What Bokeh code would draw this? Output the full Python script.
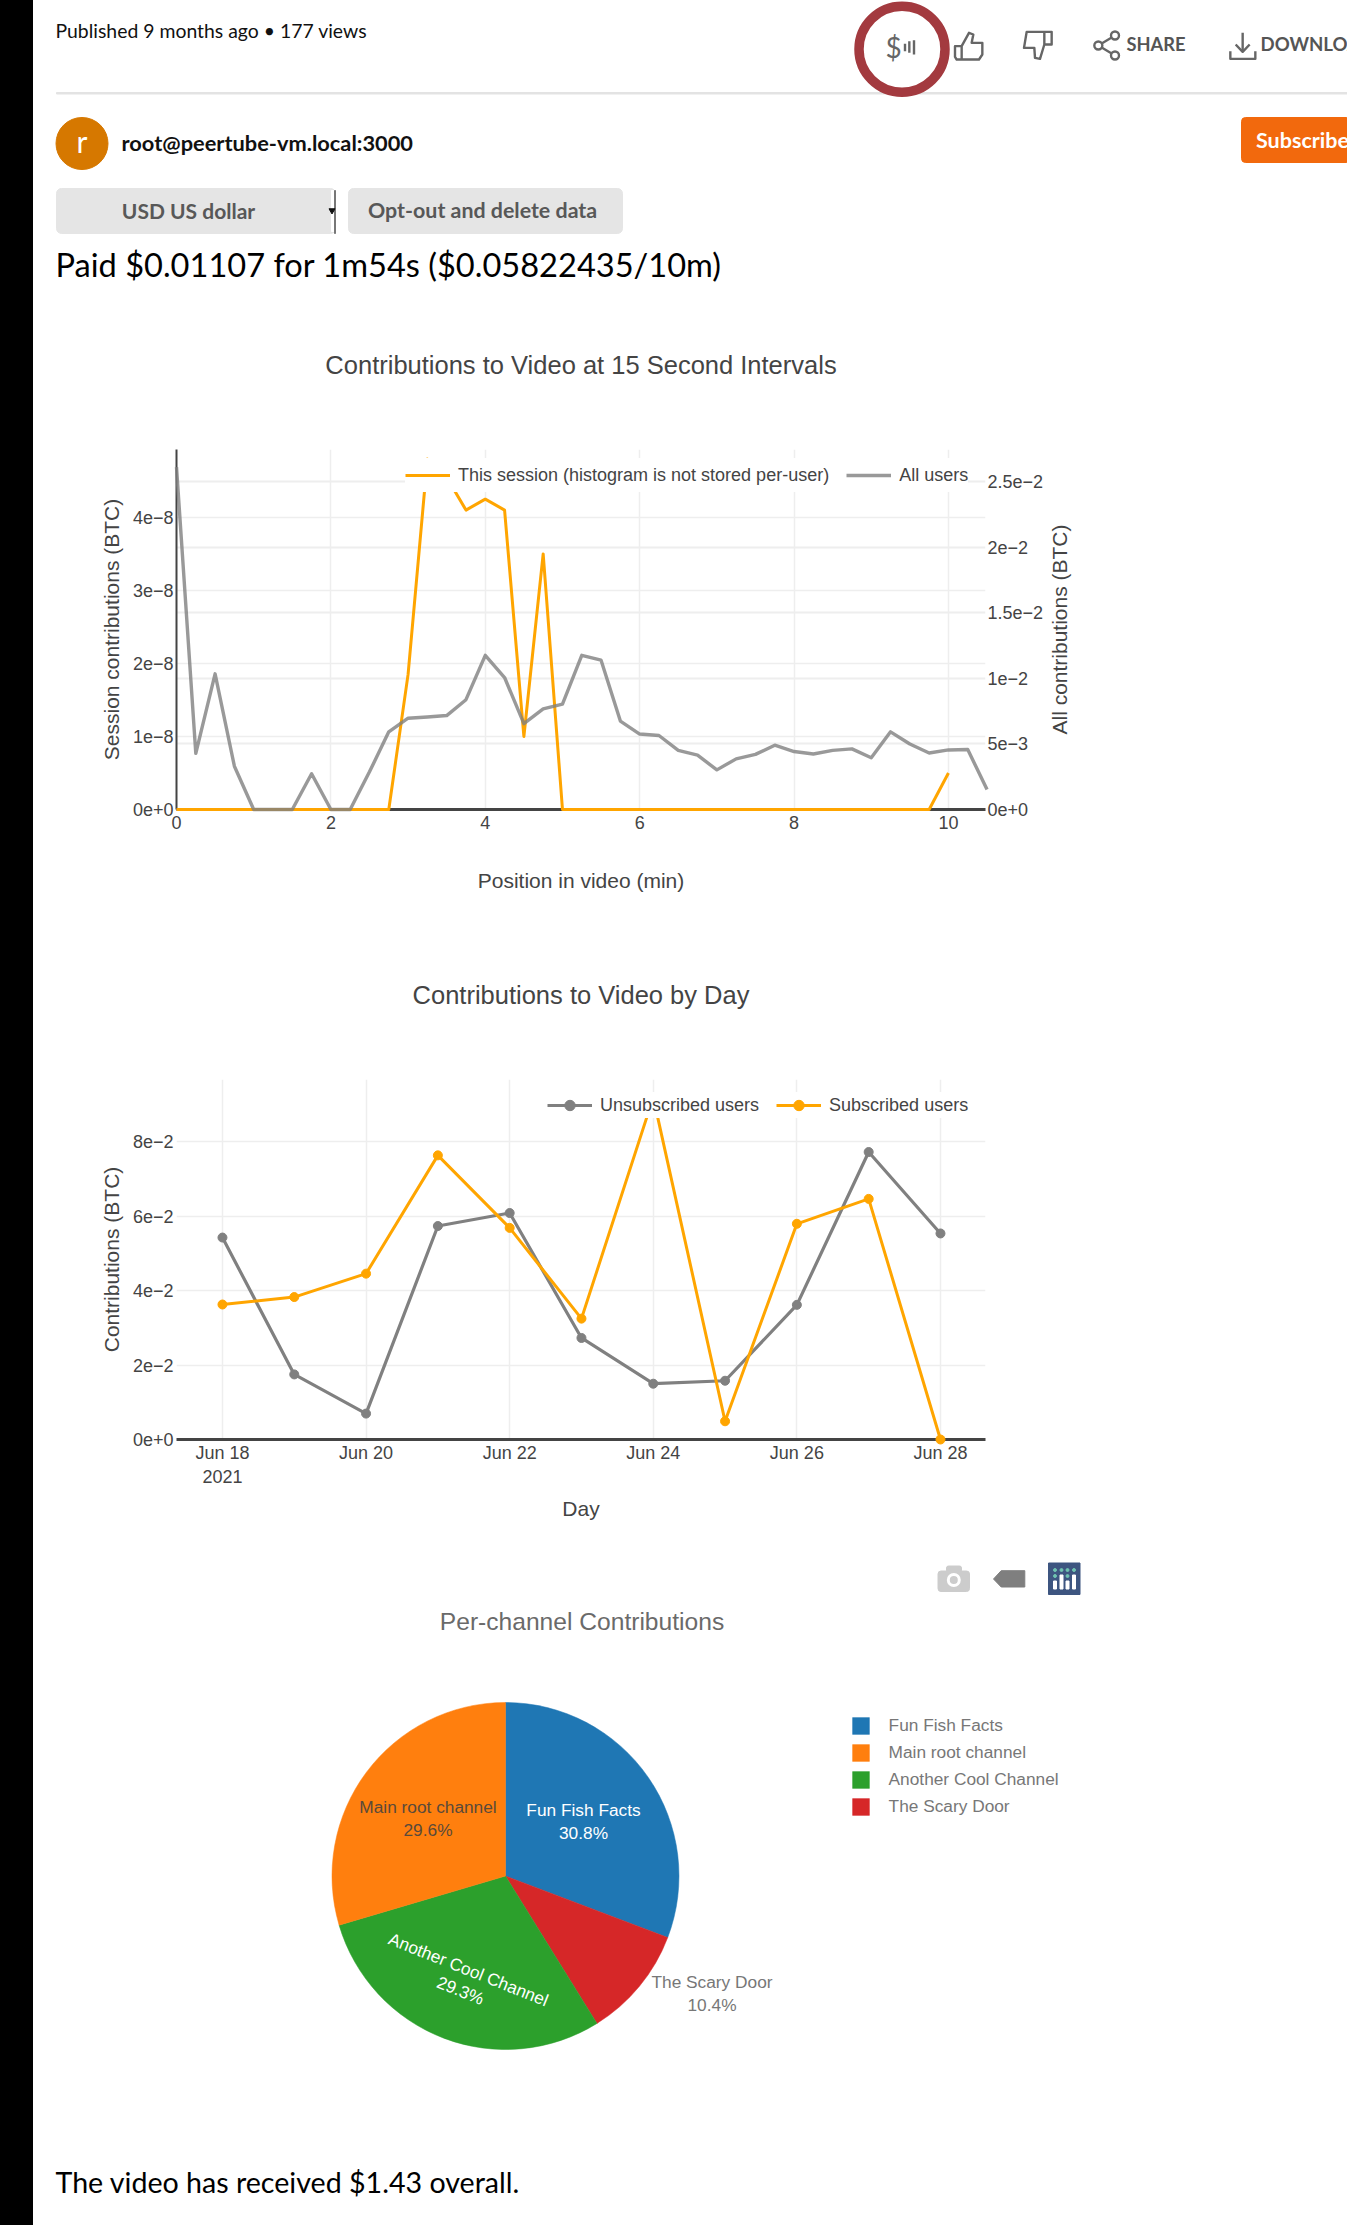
import numpy as np
import pandas as pd
from bokeh.core.properties import value
from bokeh.embed import file_html
from bokeh.layouts import column, row
from bokeh.models import (ColumnDataSource, CustomJSTickFormatter, Div, FixedTicker, Grid,
                          Legend, LegendItem, LinearAxis, Range1d)
from bokeh.plotting import figure
from bokeh.resources import INLINE

# ---- chart 1 data
minutes = [0, .25, .5, .75, 1, 1.25, 1.5, 1.75, 2, 2.25, 2.5, 2.75, 3, 3.25, 3.5, 3.75, 4, 4.25, 4.5, 4.75,
           5, 5.25, 5.5, 5.75, 6, 6.25, 6.5, 6.75, 7, 7.25, 7.5, 7.75, 8, 8.25, 8.5, 8.75, 9, 9.25, 9.5,
           9.75, 10, 10.25, 10.5]
all_users = [.0261, .00428, .01034, .0033, 0, 0, 0, .00273, 0, 0, .00287, .00592, .00696, .00705, .00716,
             .00837, .01175, .01006, .00654, .00767, .00803, .01175, .01138, .00674, .00575, .00564, .00451,
             .00414, .00302, .00386, .0042, .0049, .00442, .00423, .00451, .00462, .00395, .00592, .00499,
             .00431, .00454, .00457, .00152]
session_minutes = minutes[:41]
session = [0, 0, 0, 0, 0, 0, 0, 0, 0, 0, 0, 0, 1.85e-8, 4.8e-8, 4.55e-8, 4.1e-8, 4.25e-8, 4.1e-8, 1.0e-8, 3.5e-8,
           0, 0, 0, 0, 0, 0, 0, 0, 0, 0, 0, 0, 0, 0, 0, 0, 0, 0, 0, 0, .5e-8]
session_ticks = [0, 1e-8, 2e-8, 3e-8, 4e-8]
all_ticks = [0, 5e-3, 1e-2, 1.5e-2, 2e-2, 2.5e-2]
minute_ticks = [0, 2, 4, 6, 8, 10]

# ---- chart 2 data
days = ["2021-06-18", "2021-06-19", "2021-06-20", "2021-06-21", "2021-06-22", "2021-06-23",
        "2021-06-24", "2021-06-25", "2021-06-26", "2021-06-27", "2021-06-28"]
unsubscribed = [.0543, .0175, .00697, .0574, .0609, .0273, .0150, .0158, .0362, .0773, .0554]
subscribed = [.0363, .0383, .0446, .0764, .0569, .0325, .092, .0049, .058, .0647, 0]
day_ticks = ["2021-06-18", "2021-06-20", "2021-06-22", "2021-06-24", "2021-06-26", "2021-06-28"]
day_labels = ["Jun 18\n2021", "Jun 20", "Jun 22", "Jun 24", "Jun 26", "Jun 28"]
contribution_ticks = [0, 2e-2, 4e-2, 6e-2, 8e-2]

# ---- pie data
channels = ["Fun Fish Facts", "Main root channel", "Another Cool Channel", "The Scary Door"]
shares = [30.8, 29.6, 29.3, 10.4]
clockwise_order = ["Fun Fish Facts", "The Scary Door", "Another Cool Channel", "Main root channel"]
channel_colors = {"Fun Fish Facts": "#1f77b4", "Main root channel": "#ff7f0e",
                  "Another Cool Channel": "#2ca02c", "The Scary Door": "#d62728"}

ARIAL = "Liberation Sans"
SANS = "Lato"
INK = "#444444"
GRID = "#eeeeee"
BAR = 33
PAGE_W, PAGE_H = 1347, 2225
CHART_RIGHT = 1046
EXP = "return Number(tick.toPrecision(3)).toExponential().replace('e-', 'e\u2212');"


def to_ms(s):
    return pd.Timestamp(s).value / 1e6


def canvas(top, bottom, left=BAR, right=PAGE_W, dx=0.0, dy=0.0):
    """A figure whose data coordinates are the page's own pixels."""
    p = figure(width=right - left, height=bottom - top, x_range=Range1d(left + dx, right + dx),
               y_range=Range1d(bottom + dy, top + dy),
               output_backend="svg", toolbar_location=None, min_border=0, outline_line_color=None,
               x_axis_type=None, y_axis_type=None, frame_align=False)
    p.xgrid.visible = False
    p.ygrid.visible = False
    return p


def write(p, x, y, s, size, color="#000000", font=SANS, style="normal", align="left", angle=0):
    p.text(x=[x], y=[y], text=[s], text_font=value(font), text_font_size=f"{size}px", text_color=color,
           text_font_style=style, text_align=align, text_baseline="middle", angle=angle)


def style_axis(ax, label=None, standoff=10, line=False):
    ax.axis_label = label
    ax.axis_label_text_font = ARIAL
    ax.axis_label_text_font_size = "21px"
    ax.axis_label_text_font_style = "normal"
    ax.axis_label_text_color = INK
    ax.axis_label_standoff = standoff
    ax.major_label_text_font = ARIAL
    ax.major_label_text_font_size = "18px"
    ax.major_label_text_color = INK
    ax.major_label_standoff = 3
    ax.major_tick_line_color = None
    ax.minor_tick_line_color = None
    ax.major_tick_in = 0
    ax.major_tick_out = 0
    ax.axis_line_color = INK if line else None
    ax.axis_line_width = 3 if line else 2


def make_legend(items, loc, height):
    lg = Legend(items=items, location=loc, orientation="horizontal", glyph_width=45, glyph_height=height,
                label_standoff=8, spacing=17, padding=8, margin=0, border_line_color=None,
                background_fill_color="white", background_fill_alpha=1.0,
                label_text_font=ARIAL, label_text_font_size="18px", label_text_color=INK,
                label_height=height, level="overlay")
    return lg


# ================ header ================
head = canvas(0, 285, dx=2, dy=3)
head.quad(left=[58], right=[1350], top=[95], bottom=[96.5], color="#e3e3e3")
# payment ring
head.circle(x=[903.5], y=[51.7], radius=43, fill_color=None, line_color="#a33a3f", line_width=9.5)
write(head, 895, 49, "$", 28, "#666666", align="center")
ICON = "#666666"
def zx(v):
    return 846.5 + v / 3
def zy(v):
    return 2 + v / 3
head.multi_line(xs=[[zx(a) for a in xs] for xs in [
        [350, 372, 385, 380, 412, 412, 402, 335, 330, 330, 350, 350],
        [598, 620, 620, 598, 598, 545, 537, 568, 570, 585, 598],
        [1172, 1193, 1214], [1193, 1193], [1156, 1156, 1231, 1231],
        [810, 760, 810], [180, 180], [193, 193], [207, 207]]],
    ys=[[zy(a) for a in ys] for ys in [
        [140, 100, 105, 130, 130, 165, 180, 180, 172, 140, 140, 180],
        [97, 97, 135, 135, 97, 97, 145, 145, 175, 178, 135],
        [135, 157, 135], [100, 157], [155, 178, 178, 155],
        [108, 138, 168], [133, 155], [125, 160], [122, 165]]],
    line_color=ICON, line_width=2.4, line_join="round")
head.circle(x=[zx(810), zx(760), zx(810)], y=[zy(108), zy(138), zy(168)], radius=4, fill_color="white",
            line_color=ICON, line_width=2.4)
write(head, 1128, 46.5, "SHARE", 18.3, "#555555", style="bold")
write(head, 1262, 46.5, "DOWNLOAD", 18.6, "#555555", style="bold")
# channel line
head.circle(x=[83.5], y=[146], radius=26, color="#d67800")
write(head, 83.5, 143.5, "r", 30, "#ffffff", align="center")
write(head, 123, 144.5, "root@peertube-vm.local:3000", 21.8, "#111111", style="bold")
head.quad(left=[1243], right=[1352], top=[120], bottom=[165], color="#f2690d", border_radius=4)
write(head, 1257.5, 142.5, "Subscribe", 21.5, "#ffffff", style="bold")
write(head, 57, 33, "Published 9 months ago \u2022 177 views", 19.4, "#111111")
# controls
head.quad(left=[58, 350], right=[337, 624], top=[191, 191], bottom=[236, 236], color="#e5e5e5", border_radius=5)
head.quad(left=[333], right=[336], top=[193], bottom=[234], color="#ffffff")
head.quad(left=[336], right=[337], top=[193], bottom=[236], color="#777777")
head.scatter(x=[333.5], y=[213], marker="inverted_triangle", size=6, color="#111111")
write(head, 190, 212.5, "USD US dollar", 21, "#585858", style="bold", align="center")
write(head, 369.5, 212.5, "Opt-out and delete data", 21.4, "#585858", style="bold")
write(head, 57, 266.5, "Paid $0.01107 for 1m54s ($0.05822435/10m)", 32.6, "#000000")

# ================ chart 1 ================
band1 = canvas(285, 400)
write(band1, 580.5, 364, "Contributions to Video at 15 Second Intervals", 25.5, INK, font=ARIAL, align="center")

c1 = figure(width=CHART_RIGHT - BAR, height=530, x_range=Range1d(0, 10.48), y_range=Range1d(0, 4.93e-8),
            output_backend="svg", toolbar_location=None, outline_line_color=None, background_fill_color="white",
            min_border_left=176 - BAR, min_border_right=CHART_RIGHT - 985, min_border_top=449 - 400,
            min_border_bottom=930 - 809, frame_align=False)
c1.extra_y_ranges["all"] = Range1d(0, 2.744e-2)
style_axis(c1.xaxis[0], "Position in video (min)", 37, line=True)
c1.xaxis[0].major_label_standoff = 6
style_axis(c1.yaxis[0], "Session contributions (BTC)", 7, line=True)
c1.yaxis[0].axis_line_width = 2
c1.xaxis[0].ticker = FixedTicker(ticks=minute_ticks)
c1.yaxis[0].ticker = FixedTicker(ticks=session_ticks)
c1.yaxis[0].formatter = CustomJSTickFormatter(code=EXP)
right = LinearAxis(y_range_name="all", ticker=FixedTicker(ticks=all_ticks),
                   formatter=CustomJSTickFormatter(code=EXP))
style_axis(right, None, 2)
right.major_label_standoff = 2
c1.add_layout(right, "right")
for g in c1.xgrid + c1.ygrid:
    g.grid_line_color = GRID
    g.grid_line_width = 1.5
c1.xgrid[0].ticker = FixedTicker(ticks=minute_ticks)
c1.ygrid[0].ticker = FixedTicker(ticks=session_ticks)
c1.add_layout(Grid(dimension=1, y_range_name="all", ticker=FixedTicker(ticks=all_ticks), grid_line_color=GRID,
                   grid_line_width=2))
r_ses = c1.line(session_minutes, session, line_color="orange", line_width=3, line_join="round", level="annotation")
r_all = c1.line(minutes, all_users, y_range_name="all", line_color="#808080", line_alpha=0.8, line_width=3.4,
                line_join="round", level="annotation")
c1.add_layout(make_legend([LegendItem(label="This session (histogram is not stored per-user)", renderers=[r_ses]),
                           LegendItem(label="All users", renderers=[r_all])], (229, 317), 34))

side1 = canvas(400, 930, left=CHART_RIGHT)
write(side1, 1059, 629, "All contributions (BTC)", 21, INK, font=ARIAL, align="center", angle=np.pi / 2)

# ================ chart 2 ================
band2 = canvas(930, 1040)
write(band2, 580.5, 994, "Contributions to Video by Day", 25.5, INK, font=ARIAL, align="center")

day_ms = [to_ms(d) for d in days]
DAY = 86400000.0
c2 = figure(width=PAGE_W - BAR, height=500, x_axis_type="datetime",
            x_range=Range1d(day_ms[0] - 0.64 * DAY, day_ms[-1] + 0.627 * DAY), y_range=Range1d(0, 0.0968),
            output_backend="svg", toolbar_location=None, outline_line_color=None,
            min_border_left=176 - BAR, min_border_right=PAGE_W - 985, min_border_top=1079 - 1040,
            min_border_bottom=1540 - 1439, frame_align=False)
style_axis(c2.xaxis[0], "Day", 7, line=True)
style_axis(c2.yaxis[0], "Contributions (BTC)", 7)
tick_ms = [to_ms(d) for d in day_ticks]
c2.xaxis[0].ticker = FixedTicker(ticks=tick_ms)
c2.xaxis[0].major_label_overrides = {t: s for t, s in zip(tick_ms, day_labels)}
c2.yaxis[0].ticker = FixedTicker(ticks=contribution_ticks)
c2.yaxis[0].formatter = CustomJSTickFormatter(code=EXP)
c2.xgrid[0].ticker = FixedTicker(ticks=tick_ms)
c2.ygrid[0].ticker = FixedTicker(ticks=contribution_ticks)
for g in c2.xgrid + c2.ygrid:
    g.grid_line_color = GRID
    g.grid_line_width = 1.5
src = ColumnDataSource(dict(day=day_ms, un=unsubscribed, sub=subscribed))
l_un = c2.line("day", "un", source=src, line_color="#808080", line_width=3.2, level="annotation")
m_un = c2.scatter("day", "un", source=src, size=9, color="#808080", level="annotation")
l_su = c2.line("day", "sub", source=src, line_color="orange", line_width=3, level="annotation")
m_su = c2.scatter("day", "sub", source=src, size=9, color="orange", level="annotation")
c2.add_layout(make_legend([LegendItem(label="Unsubscribed users", renderers=[l_un, m_un]),
                           LegendItem(label="Subscribed users", renderers=[l_su, m_su])], (371, 321), 26))

# ================ pie and footer ================
pie = canvas(1540, PAGE_H, dx=2, dy=3)
CX, CY, R = 507, 1878.5, 173.5
write(pie, 583.5, 1623.5, "Per-channel Contributions", 24.6, "#6a6a6a", font=ARIAL, align="center")
renderers = {}
start = 0.0
total = sum(shares)
for name in clockwise_order:
    frac = shares[channels.index(name)] / total
    renderers[name] = pie.wedge(x=[CX], y=[CY], radius=R, start_angle=np.pi / 2 - start * 2 * np.pi,
                                end_angle=np.pi / 2 - (start + frac) * 2 * np.pi, direction="clock",
                                fill_color=channel_colors[name], line_color=channel_colors[name], line_width=0.5)
    start += frac
pie.add_layout(Legend(items=[LegendItem(label=c, renderers=[renderers[c]]) for c in channels],
                      location=(849.6 - BAR, PAGE_H - 1816.5), orientation="vertical", glyph_width=21, glyph_height=21,
                      label_standoff=18, spacing=6, padding=0, margin=0, border_line_color=None,
                      background_fill_alpha=0, label_text_font=ARIAL, label_text_font_size="17.3px",
                      label_text_color="#777777", label_height=21))
write(pie, 585, 1812.5, "Fun Fish Facts", 17.3, "#ffffff", font=ARIAL, align="center")
write(pie, 585, 1835.5, "30.8%", 17.3, "#ffffff", font=ARIAL, align="center")
write(pie, 429.5, 1809.5, "Main root channel", 17.3, "#5a4a3a", font=ARIAL, align="center")
write(pie, 429.5, 1832.5, "29.6%", 17.3, "#5a4a3a", font=ARIAL, align="center")
write(pie, 470, 1972, "Another Cool Channel", 17.3, "#ffffff", font=ARIAL, align="center", angle=-0.38)
write(pie, 462, 1993, "29.3%", 17.3, "#ffffff", font=ARIAL, align="center", angle=-0.38)
write(pie, 713.5, 1984.5, "The Scary Door", 17.3, "#777777", font=ARIAL, align="center")
write(pie, 713.5, 2007.5, "10.4%", 17.3, "#777777", font=ARIAL, align="center")
# toolbar icons
pie.quad(left=[939.5], right=[971], top=[1573.5], bottom=[1594], color="#cccccc", border_radius=3)
pie.quad(left=[948], right=[963], top=[1568.5], bottom=[1574.5], color="#cccccc", border_radius=2)
pie.circle(x=[955.3], y=[1582.5], radius=5.5, fill_color="#cccccc", line_color="white", line_width=3)
pie.patch(x=[995, 1002.7, 1026.3, 1026.3, 1002.7], y=[1581.5, 1573.2, 1573.2, 1589.5, 1589.5], color="#7f7f7f")
pie.quad(left=[1050], right=[1081.5], top=[1565.5], bottom=[1597], color="#3d5580")
pie.quad(left=[1055, 1061.5, 1067.5, 1074], right=[1058, 1064.5, 1070.5, 1077],
         top=[1583.5, 1577.5, 1583.5, 1577.5], bottom=[1591.5, 1591.5, 1591.5, 1591.5], color="#ffffff")
pie.scatter(x=[1056.5, 1063, 1069, 1075.5, 1056.5, 1069], y=[1572.5, 1572.5, 1572.5, 1572.5, 1578.5, 1578.5], size=3,
            color="#6fc2b0")
write(pie, 57, 2184.5, "The video has received $1.43 overall.", 28.6, "#000000")

bar = Div(width=BAR, height=PAGE_H, margin=0, styles={"background-color": "#000000"})
chart1_row = row(c1, side1, spacing=0, margin=0)
body = column(head, band1, chart1_row, band2, c2, pie, spacing=0, margin=0)
root = row(bar, body, spacing=0, margin=0)
open("out.html", "w").write(file_html(root, INLINE))
